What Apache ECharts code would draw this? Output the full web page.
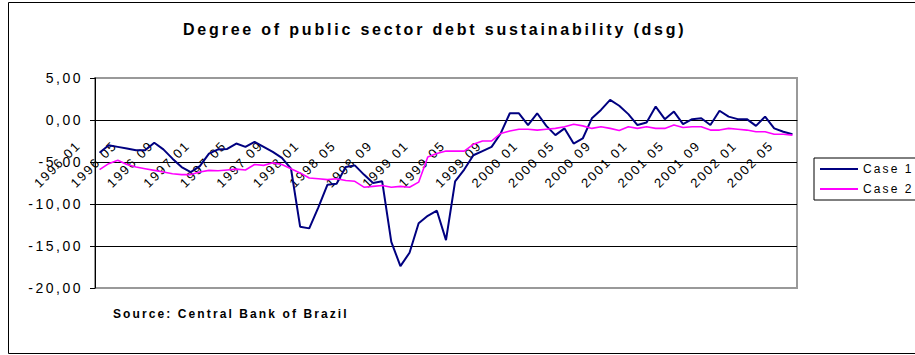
<!DOCTYPE html>
<html>
<head>
<meta charset="utf-8">
<script src="https://cdn.jsdelivr.net/npm/echarts@6/dist/echarts.min.js"></script>
<style>
  html, body { margin: 0; padding: 0; background: #fff; }
  #chart { width: 915px; height: 355px; }
  /* excel style spaced text */
  #chart text { letter-spacing: 2.5px; }
  #chart text[style*="16px"] { letter-spacing: 2.8px; }
  #chart text[style*="13px"] { letter-spacing: 1.8px; }
  #chart text[style*="12px"] { letter-spacing: 2.1px; }
</style>
</head>
<body>
<div id="chart"></div>
<script>
// monthly categories 1996 01 .. 2002 05
const startYear = 1996
const monthCount = 77
const categories = []
for (let i = 0; i < monthCount; i++) {
    const y = startYear + Math.floor(i / 12)
    const m = (i % 12) + 1
    categories.push(y + ' ' + (m < 10 ? '0' + m : m))
}

const case1 = [-3.9, -3.0, -3.2, -3.4, -3.6, -3.6, -2.7, -3.5, -4.6, -5.6,
    -6.2, -5.5, -4.0, -3.5, -3.45, -2.8, -3.2, -2.6, -3.2, -3.8,
    -4.5, -5.8, -12.7, -12.9, -10.4, -7.7, -7.6, -5.6, -5.4, -6.5,
    -7.5, -7.3, -14.5, -17.4, -15.8, -12.3, -11.4, -10.8, -14.3, -7.3,
    -5.9, -4.2, -3.7, -3.2, -1.6, 0.8, 0.8, -0.6, 0.8, -0.7,
    -1.8, -1.0, -2.8, -2.2, 0.2, 1.2, 2.4, 1.7, 0.7, -0.6,
    -0.3, 1.6, 0.1, 1.0, -0.5, 0.1, 0.2, -0.6, 1.1, 0.4,
    0.1, 0.1, -0.7, 0.4, -1.0, -1.4, -1.7]

const case2 = [-5.9, -5.2, -4.8, -5.3, -5.6, -5.8, -6.0, -6.2, -6.4, -6.5,
    -6.5, -6.2, -6.0, -6.05, -5.95, -5.85, -5.95, -5.3, -5.4, -5.1,
    -5.3, -5.8, -6.3, -6.9, -7.0, -7.1, -7.0, -7.2, -7.3, -8.0,
    -7.9, -7.8, -8.0, -7.9, -8.0, -7.4, -4.4, -4.0, -3.7, -3.7,
    -3.7, -2.9, -2.5, -2.5, -1.6, -1.3, -1.1, -1.1, -1.2, -1.1,
    -1.0, -0.8, -0.5, -0.7, -1.0, -0.8, -1.0, -1.25, -0.8, -1.0,
    -0.8, -1.0, -1.0, -0.6, -0.9, -0.8, -0.8, -1.2, -1.2, -1.0,
    -1.1, -1.2, -1.4, -1.4, -1.7, -1.7, -1.8]

const yMin = -20
const yMax = 5

const font = "'Liberation Sans', Arial, sans-serif"
const gridTop = 78
const gridHeight = 210
// x axis sits on the zero line
const zeroOffset = -gridHeight * (0 - yMin) / (yMax - yMin)

const myChart = echarts.init(document.getElementById('chart'), null, { renderer: 'svg' })

const option = {
    animation: false,
    title: {
        text: 'Degree of public sector debt sustainability (dsg)',
        left: 183,
        top: 21,
        padding: 0,
        textStyle: { fontFamily: font, fontSize: 16, fontWeight: 'bold', color: '#000' }
    },
    legend: {
        orient: 'vertical',
        left: 814,
        top: 158,
        padding: [4, 40, 4, 6],
        itemGap: 6,
        itemWidth: 38,
        itemHeight: 2,
        icon: 'rect',
        borderColor: '#000',
        borderWidth: 1,
        borderRadius: 0,
        textStyle: { fontFamily: font, fontSize: 12, color: '#000', lineHeight: 14 },
        data: ['Case 1', 'Case 2']
    },
    graphic: [
        {
            type: 'rect',
            silent: true,
            shape: { x: 8.5, y: 2.5, width: 1000, height: 351 },
            style: { fill: 'none', stroke: '#000', lineWidth: 1 }
        },
        {
            type: 'text',
            left: 113,
            top: 308,
            style: {
                text: 'Source: Central Bank of Brazil',
                fontFamily: font,
                fontSize: 12,
                fontWeight: 'bold',
                fill: '#000'
            }
        }
    ],
    grid: {
        left: 95,
        top: gridTop,
        width: 702,
        height: gridHeight,
        show: true,
        borderColor: '#999',
        borderWidth: 2
    },
    xAxis: {
        type: 'category',
        data: categories,
        boundaryGap: true,
        position: 'bottom',
        offset: zeroOffset,
        axisLine: { onZero: false, lineStyle: { color: '#000', width: 1 } },
        axisTick: { interval: 0, length: 4, lineStyle: { color: '#000' } },
        axisLabel: {
            interval: 3,
            rotate: 45,
            margin: 2,
            padding: [0, 30, 0, 0],
            fontFamily: font,
            fontSize: 13,
            color: '#000'
        },
        splitLine: { show: false }
    },
    yAxis: {
        type: 'value',
        min: yMin,
        max: yMax,
        interval: 5,
        axisLine: { show: true, lineStyle: { color: '#000', width: 1 } },
        axisTick: { show: true, length: 5, lineStyle: { color: '#000' } },
        axisLabel: {
            margin: 12,
            fontFamily: font,
            fontSize: 14,
            color: '#000',
            formatter: v => v.toFixed(2).replace('.', ',')
        },
        splitLine: {
            lineStyle: { color: ['#999', '#000', '#000', '#000', '#000', '#999'], width: 1 }
        }
    },
    series: [
        {
            name: 'Case 1',
            type: 'line',
            data: case1,
            showSymbol: false,
            color: '#000080',
            lineStyle: { width: 2 }
        },
        {
            name: 'Case 2',
            type: 'line',
            data: case2,
            showSymbol: false,
            color: '#ff00ff',
            lineStyle: { width: 1.6 }
        }
    ]
}

myChart.setOption(option)
</script>
</body>
</html>
